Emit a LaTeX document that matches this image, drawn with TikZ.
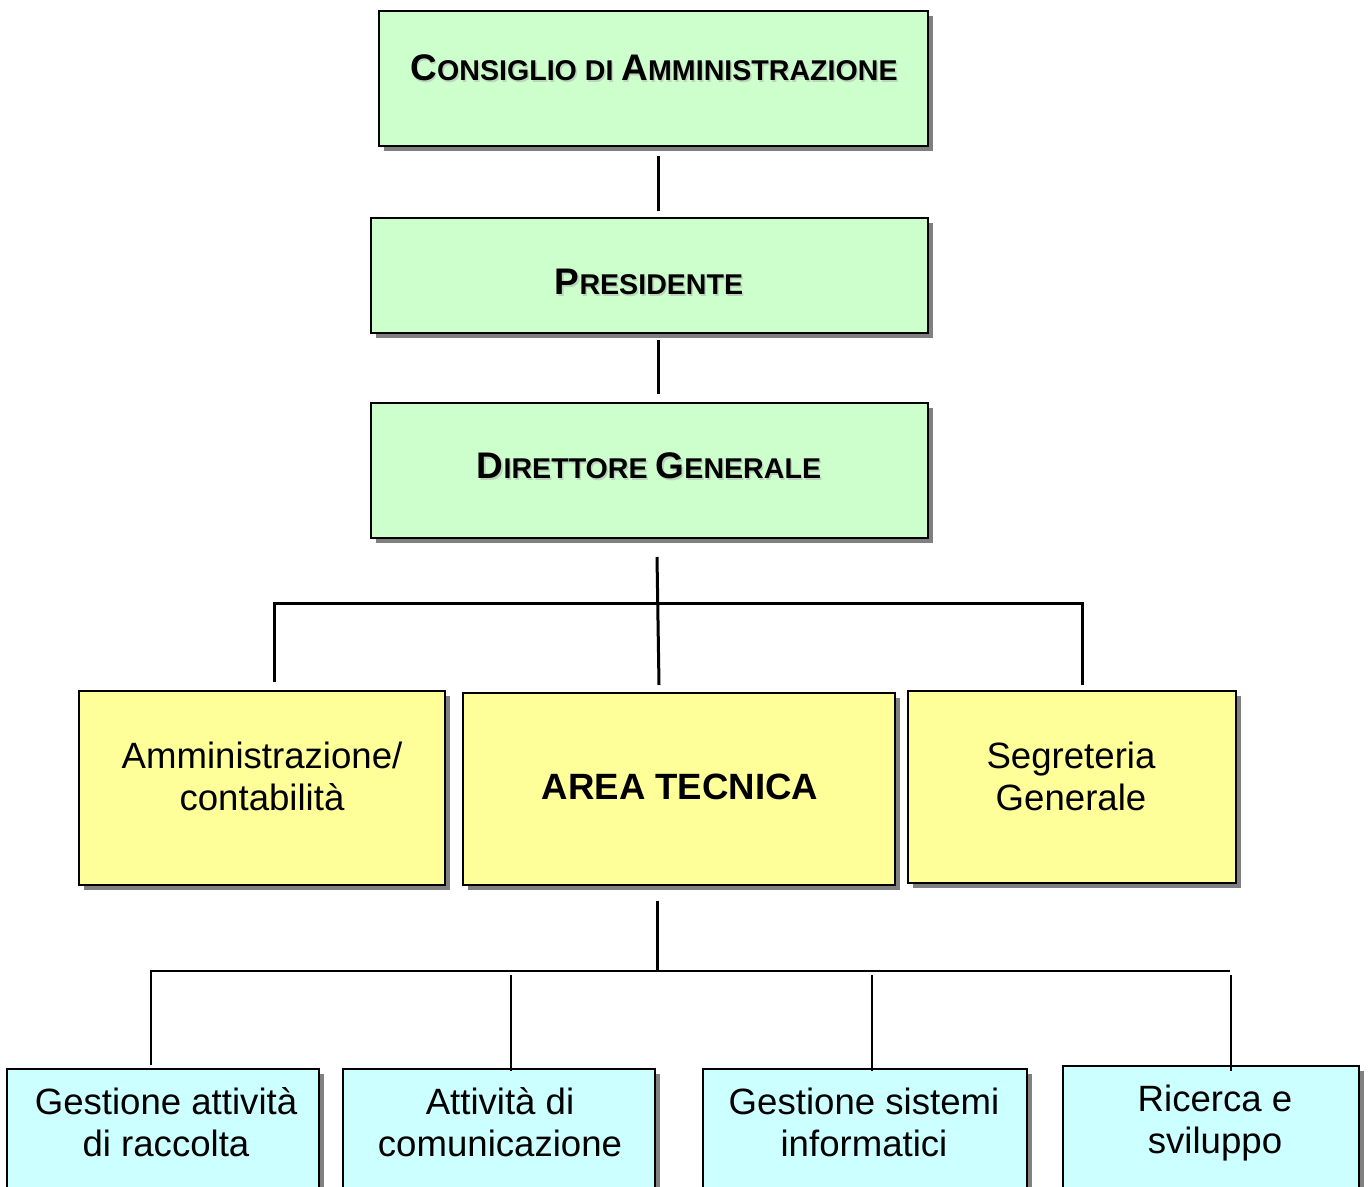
\documentclass[tikz,border=0pt]{standalone}
\usepackage{fontspec}
\setmainfont{Liberation Sans}
\usetikzlibrary{calc,shadows}
\definecolor{boxgreen}{HTML}{CCFFCC}
\definecolor{boxyellow}{HTML}{FFFF99}
\definecolor{boxcyan}{HTML}{CCFFFF}
\definecolor{shadegray}{HTML}{808080}
% large and small capitals for the titles
\newcommand\titlebig[1]{{\fontsize{18.5}{20}\selectfont #1}}
\newcommand\titlesmall[1]{{\fontsize{14.3}{16}\selectfont #1}}

\begin{document}
\begin{tikzpicture}[x=0.5pt,y=-0.5pt,
  orgbox/.style={draw=black, line width=1pt, inner sep=0pt,
    drop shadow={shadow xshift=2.5pt, shadow yshift=-2.5pt, fill=shadegray, opacity=1}},
  boxsize/.style 2 args={minimum width={#1*0.5pt}, minimum height={#2*0.5pt}},
  greenbox/.style={orgbox, fill=boxgreen},
  yellowbox/.style={orgbox, fill=boxyellow},
  cyanbox/.style={orgbox, fill=boxcyan},
  title/.style={font=\bfseries, inner sep=0pt},
  titleshade/.style={title, text=black!35, opacity=0.45},
  boxtext/.style={font=\fontsize{18.3}{21}\selectfont, align=center, inner sep=0pt},
  boldtext/.style={boxtext, font=\fontsize{18.3}{21}\selectfont\bfseries},
  thick link/.style={draw=black, line width=1.5pt},
  thin link/.style={draw=black, line width=0.8pt},
  bus link/.style={draw=black, line width=1pt},
]
\useasboundingbox (0,0) rectangle (1370,1187);
\clip (0,0) rectangle (1370,1187);

% board levels
\node[greenbox, boxsize={549}{135}] (cda)  at (653.5,78.5) {};
\node[greenbox, boxsize={557}{115}] (pres) at (649.5,275.5) {};
\node[greenbox, boxsize={557}{135}] (dg)   at (649.5,470.5) {};

\node[titleshade] (cdas) at (655.5,69.5) {\titlebig{C}\titlesmall{ONSIGLIO DI }\titlebig{A}\titlesmall{MMINISTRAZIONE}};
\node[title] (cdat) at (654,68) {\titlebig{C}\titlesmall{ONSIGLIO DI }\titlebig{A}\titlesmall{MMINISTRAZIONE}};
\node[titleshade] (press) at (650.5,283.5) {\titlebig{P}\titlesmall{RESIDENTE}};
\node[title] (prest) at (649,282) {\titlebig{P}\titlesmall{RESIDENTE}};
\node[titleshade] (dgs) at (650.5,467.5) {\titlebig{D}\titlesmall{IRETTORE }\titlebig{G}\titlesmall{ENERALE}};
\node[title] (dgt) at (649,466) {\titlebig{D}\titlesmall{IRETTORE }\titlebig{G}\titlesmall{ENERALE}};

% areas
\node[yellowbox, boxsize={366}{194}] (amm) at (262,788) {};
\node[yellowbox, boxsize={432}{192}] (at)  at (679,789) {};
\node[yellowbox, boxsize={328}{192}] (seg) at (1072,787) {};
\node[boxtext]  (ammt) at (262,776) {Amministrazione/\\contabilità};
\node[boldtext] (att)  at (680,787) {AREA TECNICA};
\node[boxtext]  (segt) at (1071,776) {Segreteria\\Generale};

% technical units
\node[cyanbox, boxsize={312}{171}] (g1) at (163,1154.5) {};
\node[cyanbox, boxsize={312}{171}] (g2) at (499,1154.5) {};
\node[cyanbox, boxsize={324}{171}] (g3) at (865,1154.5) {};
\node[cyanbox, boxsize={296}{174}] (g4) at (1211,1153) {};
\node[boxtext] (g1t) at (166,1122) {Gestione attività\\di raccolta};
\node[boxtext] (g2t) at (500,1122) {Attività di\\comunicazione};
\node[boxtext] (g3t) at (864,1122) {Gestione sistemi\\informatici};
\node[boxtext] (g4t) at (1215,1123) {Ricerca e\\sviluppo};

% upper connectors
\draw[thick link] ($(cda.south)+(4.5,9)$) -- ($(pres.north)+(8.5,-6)$);
\draw[thick link] ($(pres.south)+(8.5,6)$) -- ($(dg.north)+(8.5,-8)$);
\draw[thick link] ($(dg.south)+(7.5,18)$) -- ($(at.north)+(-20,-7)$);
\draw[thick link] ($(amm.north)+(12,-8)$) |- ($(seg.north)+(10,-87)$) -- ($(seg.north)+(10,-5)$);

% lower connectors
\draw[thick link] ($(at.south)+(-22,15)$) -- ($(at.south)+(-22,84)$);
\draw[bus link] ($(g1.north)+(-12,-3)$) |- ($(g4.north)+(19,-94)$);
\draw[thin link] ($(g2.north)+(12,-93)$) -- ($(g2.north)+(12,3)$);
\draw[thin link] ($(g3.north)+(7,-93)$) -- ($(g3.north)+(7,3)$);
\draw[thin link] ($(g4.north)+(20,-90)$) -- ($(g4.north)+(20,6)$);
\end{tikzpicture}
\end{document}
